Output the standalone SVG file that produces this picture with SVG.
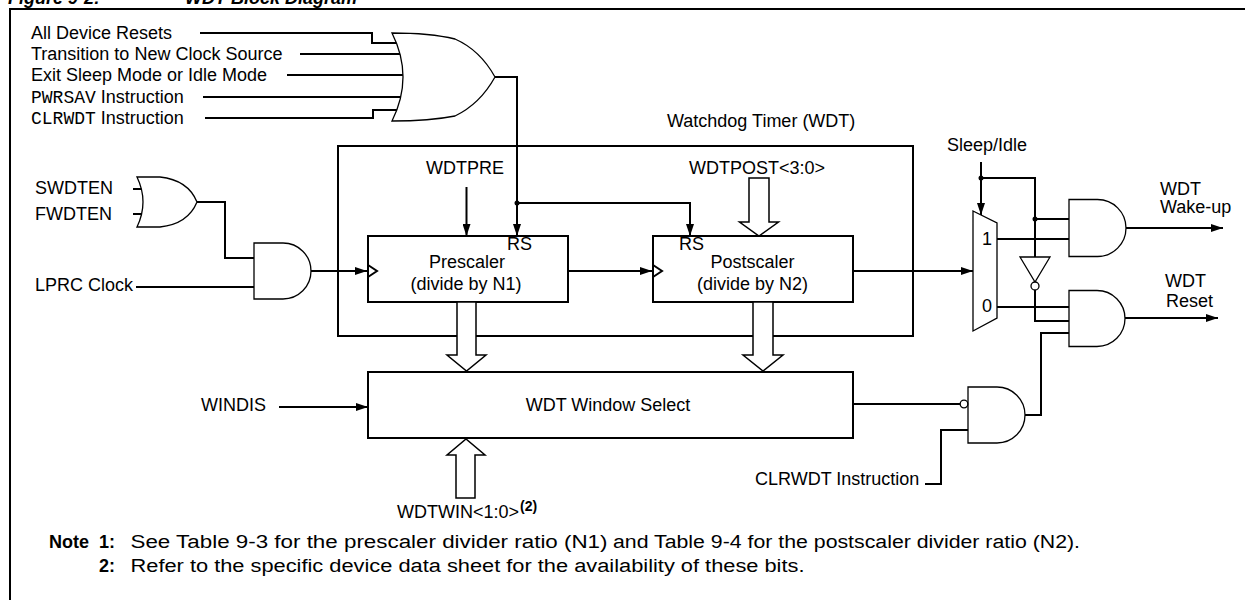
<svg xmlns="http://www.w3.org/2000/svg" width="1245" height="600" viewBox="0 0 1245 600">
<defs>
<marker id="arr" viewBox="0 0 12 8" refX="12" refY="4" markerWidth="12" markerHeight="8" markerUnits="userSpaceOnUse" orient="auto">
<path d="M0,0 L12,4 L0,8 Z" fill="#000"/>
</marker>
</defs>
<style>
text{font-family:"Liberation Sans",Arial,sans-serif;font-size:18px;fill:#000}
.mono{font-family:"Liberation Mono","Courier New",monospace}
.b{font-weight:bold}
.w{fill:none;stroke:#000;stroke-width:2}
.wa{fill:none;stroke:#000;stroke-width:2;marker-end:url(#arr)}
.box{fill:#fff;stroke:#000;stroke-width:2}
.gate{fill:#fff;stroke:#000;stroke-width:1.3}
.bus{fill:#fff;stroke:#000;stroke-width:1.5}
.mid{text-anchor:middle}
</style>
<rect width="1245" height="600" fill="#fff"/>
<g id="frame">
<text x="8" y="4" class="b" font-style="italic" font-size="24">Figure 9-2:</text>
<text x="185" y="4" class="b" font-style="italic" font-size="24">WDT Block Diagram</text>
<polyline class="w" points="10,600 10,9 1245,9"/>
</g>
<g id="connectors">
<polyline class="w" points="200,33 372,33 372,43 398,43"/>
<polyline class="w" points="300,54 401,54"/>
<polyline class="w" points="287,75 403,75"/>
<polyline class="w" points="203,97 401,97"/>
<polyline class="w" points="205,118 373,118 373,110 398,110"/>
<polyline class="wa" points="495,77 517,77 517,236"/>
<polyline class="wa" points="517,203 690,203 690,236"/>
<circle cx="517" cy="203" r="2.5"/>
<line class="wa" x1="466.5" y1="187" x2="466.5" y2="236"/>
<line class="w" x1="133" y1="189" x2="142" y2="189"/>
<line class="w" x1="133" y1="214" x2="142" y2="214"/>
<polyline class="w" points="197,202 225,202 225,258 254,258"/>
<line class="w" x1="136" y1="287" x2="254" y2="287"/>
<line class="wa" x1="311" y1="271" x2="367" y2="271"/>
<line class="wa" x1="568" y1="271" x2="652" y2="271"/>
<line class="wa" x1="853" y1="271" x2="973" y2="271"/>
<line class="wa" x1="279" y1="407" x2="368" y2="407"/>
<line class="w" x1="853" y1="404" x2="960" y2="404"/>
<polyline class="w" points="925,484 941,484 941,430 968,430"/>
<polyline class="w" points="1025,415 1041,415 1041,333 1069,333"/>
<line class="wa" x1="981" y1="162" x2="981" y2="215"/>
<circle cx="981" cy="178" r="2.5"/>
<polyline class="w" points="981,178 1035,178 1035,257"/>
<circle cx="1035" cy="219" r="2.5"/>
<line class="w" x1="1035" y1="219" x2="1069" y2="219"/>
<polyline class="w" points="1035,290 1035,321 1069,321"/>
<line class="w" x1="997" y1="239" x2="1069" y2="239"/>
<line class="w" x1="997" y1="307" x2="1069" y2="307"/>
<line class="wa" x1="1126" y1="228" x2="1223" y2="228"/>
<line class="wa" x1="1125" y1="318" x2="1218" y2="318"/>
</g>
<g id="inputs">
<text x="31" y="39">All Device Resets</text>
<text x="31" y="60">Transition to New Clock Source</text>
<text x="31" y="81">Exit Sleep Mode or Idle Mode</text>
<text x="31" y="103"><tspan class="mono">PWRSAV</tspan> Instruction</text>
<text x="31" y="124"><tspan class="mono">CLRWDT</tspan> Instruction</text>
<text x="35" y="194">SWDTEN</text>
<text x="35" y="220">FWDTEN</text>
<text x="35" y="291">LPRC Clock</text>
<text x="201" y="411">WINDIS</text>
<text x="755" y="485">CLRWDT Instruction</text>
<text x="947" y="151">Sleep/Idle</text>
</g>
<g id="or-reset">
<path class="gate" d="M392,33 Q430,33 455,39 Q480,50 495,77 Q480,104 455,116 Q430,121 392,121 Q414,77 392,33 Z"/>
</g>
<g id="or-enable">
<path class="gate" d="M137,177 L160,177 Q188,180 197,202 Q188,224 160,227 L137,227 Q149,202 137,177 Z"/>
</g>
<g id="and-clock">
<path class="gate" d="M254,243 L283,243 A28,28 0 0 1 283,299 L254,299 Z"/>
</g>
<g id="wdt">
<rect class="w" x="338" y="146" width="575" height="190"/>
<text x="667" y="127">Watchdog Timer (WDT)</text>
<text x="426" y="174">WDTPRE</text>
<text x="689" y="174">WDTPOST&lt;3:0&gt;</text>
<polygon class="bus" points="749,178 749,222 739.5,222 759,236 778.5,222 769,222 769,178"/>
</g>
<g id="prescaler">
<rect class="box" x="368" y="236" width="200" height="66"/>
<polyline class="w" points="368,265 377,271 368,277" stroke-width="1.3"/>
<text x="507" y="250">RS</text>
<text x="467" y="268" class="mid">Prescaler</text>
<text x="466" y="290" class="mid">(divide by N1)</text>
<polygon class="bus" points="457,302 457,355 447,355 466.5,371 486,355 476,355 476,302"/>
</g>
<g id="postscaler">
<rect class="box" x="653" y="236" width="200" height="66"/>
<polyline class="w" points="653,265 662,271 653,277" stroke-width="1.3"/>
<text x="679" y="250">RS</text>
<text x="752.5" y="268" class="mid">Postscaler</text>
<text x="752.5" y="290" class="mid">(divide by N2)</text>
<polygon class="bus" points="753,302 753,355 743,355 763,371 783,355 773,355 773,302"/>
</g>
<g id="window-select">
<rect class="box" x="368" y="372" width="485" height="66"/>
<text x="608" y="411" class="mid">WDT Window Select</text>
<polygon class="bus" points="456,498 456,455 447,455 466,439 485,455 475,455 475,498"/>
<text x="397" y="518" font-size="16.3">WDTWIN&lt;1:0&gt;<tspan class="b" font-size="14" dy="-7" dx="1">(2)</tspan></text>
</g>
<g id="mux">
<polygon class="gate" points="973,211 997,223 997,318 973,331"/>
<text x="982" y="245">1</text>
<text x="982" y="312">0</text>
</g>
<g id="inverter">
<polygon class="gate" points="1020,257 1050,257 1035,282"/>
<circle class="gate" cx="1035" cy="286" r="4"/>
</g>
<g id="and-wake">
<path class="gate" d="M1069,199.5 L1097.5,199.5 A28.5,28.5 0 0 1 1097.5,256.5 L1069,256.5 Z"/>
<text x="1160" y="195">WDT</text>
<text x="1160" y="213">Wake-up</text>
</g>
<g id="and-reset">
<path class="gate" d="M1069,290.5 L1097,290.5 A28,28 0 0 1 1097,346.5 L1069,346.5 Z"/>
<text x="1165" y="287">WDT</text>
<text x="1166" y="307">Reset</text>
</g>
<g id="and-clrwdt">
<path class="gate" d="M968,387 L997,387 A28,28 0 0 1 997,443 L968,443 Z"/>
<circle class="gate" cx="964" cy="404" r="3.8"/>
</g>
<g id="notes">
<text x="49" y="548" class="b">Note</text>
<text x="99" y="548" class="b">1:</text>
<text x="130.5" y="548" textLength="477" lengthAdjust="spacingAndGlyphs">See Table 9-3 for the prescaler divider ratio (N1)</text>
<text x="613" y="548" textLength="467" lengthAdjust="spacingAndGlyphs">and Table 9-4 for the postscaler divider ratio (N2).</text>
<text x="99" y="572" class="b">2:</text>
<text x="130.5" y="572" textLength="674" lengthAdjust="spacingAndGlyphs">Refer to the specific device data sheet for the availability of these bits.</text>
</g>
</svg>
